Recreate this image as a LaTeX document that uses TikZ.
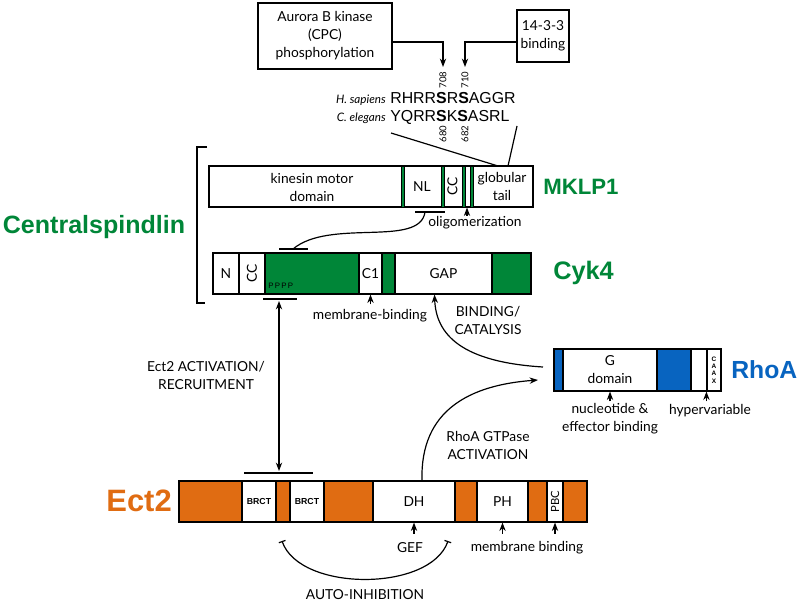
\documentclass[tikz,border=0pt]{standalone}
\usepackage{fontspec}
\setmainfont{Lato}
\newfontfamily\helv{Liberation Sans}
\usetikzlibrary{fit,arrows.meta}

\definecolor{spindlegreen}{RGB}{0,134,56}
\definecolor{ectorange}{RGB}{224,108,18}
\definecolor{rhoblue}{RGB}{8,100,192}

\tikzset{
  dom/.style={draw, line width=0.8pt, fill=white, inner sep=0pt},
  stripe/.style={draw, line width=0.5pt, fill=spindlegreen, inner sep=0pt},
  txt/.style={inner sep=0pt, align=center, font=\fontsize{9.8}{12.8}\selectfont},
  tiny/.style={inner sep=0pt, font=\fontsize{6.8}{8}\selectfont},
  brct/.style={inner sep=0pt, font=\helv\bfseries\fontsize{6.2}{7}\selectfont},
  protein/.style={inner sep=0pt, font=\helv\bfseries\fontsize{#1}{20}\selectfont},
  tip/.style={line width=0.85pt, -{Stealth[length=6pt,width=4.5pt]}},
  tee/.style={line width=0.85pt},
}

\begin{document}
\begin{tikzpicture}[x=0.025cm, y=-0.025cm]
\useasboundingbox (0,0) rectangle (800,603);

% Drawing regulator boxes
\node[dom, fit={(258,3) (392,69)}] (aurora) {};
\node[txt] (auroralbl) at (aurora) {Aurora B kinase\\(CPC)\\phosphorylation};
\node[dom, fit={(517,10) (569,62)}] (binding) {};
\node[txt] (bindinglbl) at (binding) {14-3-3\\binding};
\coordinate (s708) at (443,67);
\coordinate (s710) at (465,67);
\draw[tip] ([yshift=-4.3pt]aurora.east) -| (s708);
\draw[tip] ([yshift=-4.3pt]binding.west) -| (s710);

% Marking residue numbers
\node[tiny, rotate=90] (n708) at (443,80) {708};
\node[tiny, rotate=90] (n710) at (465,80) {710};
\node[tiny, rotate=90] (n680) at (443,134) {680};
\node[tiny, rotate=90] (n682) at (465,134) {682};

% Drawing sequences
\node[anchor=base east, inner sep=0pt, font=\itshape\fontsize{8.3}{10}\selectfont] (hsap) at (386,104) {H. sapiens};
\node[anchor=base west, inner sep=0pt, font=\helv\fontsize{11.3}{13}\selectfont] (hseq) at (390,104) {RHRR\textbf{S}R\textbf{S}AGGR};
\node[anchor=base east, inner sep=0pt, font=\itshape\fontsize{8.3}{10}\selectfont] (cele) at (386,122) {C. elegans};
\node[anchor=base west, inner sep=0pt, font=\helv\fontsize{11.3}{13}\selectfont] (cseq) at (390,122) {YQRR\textbf{S}K\textbf{S}ASRL};

% Drawing MKLP1
\node[dom, fit={(209,166) (402,207)}] (motor) {};
\node[dom, fit={(402,166) (442,207)}] (nl) {};
\node[dom, fit={(442,166) (463,207)}] (ccmk) {};
\node[dom, fit={(463,166) (471,207)}] (olig) {};
\node[dom, fit={(471,166) (533,207)}] (tail) {};
\node[stripe, fit={(401,166) (404,207)}] (stripea) {};
\node[stripe, fit={(441,166) (444,207)}] (stripeb) {};
\node[stripe, fit={(462,166) (465,207)}] (stripec) {};
\node[stripe, fit={(470,166) (473,207)}] (striped) {};
\node[txt] (motorlbl) at (312,187) {kinesin motor\\domain};
\node[txt] (nllbl) at (nl) {NL};
\node[txt, rotate=90] (ccmklbl) at (ccmk) {CC};
\node[txt] (taillbl) at (tail) {globular\\tail};
\node[protein=15.8, anchor=west, text=spindlegreen] (mklpname) at (543,187) {MKLP1};

% Drawing lines from sequence to tail
\coordinate (seqa) at (391,133);
\coordinate (seqb) at (517,126);
\coordinate (taila) at (498,166);
\coordinate (tailb) at (508,166);
\draw[tee] (seqa) -- (taila);
\draw[tee] (seqb) -- (tailb);

% Marking oligomerization
\draw[tip] ([yshift=-6pt]olig.south) -- (olig.south);
\node[txt] (oliglbl) at (475,223) {oligomerization};

% Drawing inhibition NL to Cyk4
\coordinate (nlbara) at (415,212);
\coordinate (nlbarb) at (445,212);
\coordinate (nlbarm) at (425,212);
\coordinate (cykbara) at (279,249);
\coordinate (cykbarb) at (308,249);
\coordinate (cykbarm) at (293,249);
\draw[tee] (nlbara) -- (nlbarb);
\draw[tee] (cykbara) -- (cykbarb);
\draw[tee] (nlbarm) .. controls (420,248) and (330,218) .. (cykbarm);

% Drawing Cyk4
\node[dom, fill=spindlegreen, fit={(213,253) (531,294)}] (cyk) {};
\node[dom, fit={(213,253) (239,294)}] (nterm) {};
\node[dom, fit={(239,253) (265,294)}] (cccyk) {};
\node[dom, fit={(359,253) (382,294)}] (cone) {};
\node[dom, fit={(395,253) (492,294)}] (gap) {};
\node[txt] (ntermlbl) at (nterm) {N};
\node[txt, rotate=90] (cccyklbl) at (cccyk) {CC};
\node[txt] (conelbl) at (cone) {C1};
\node[txt] (gaplbl) at (gap) {GAP};
\node[anchor=base west, inner sep=0pt, font=\helv\fontsize{5.6}{6}\selectfont] (pppp) at (268,288) {P\,P\,P\,P};
\node[protein=18, anchor=west, text=spindlegreen] (cykname) at (553,273) {Cyk4};

% Marking membrane-binding
\draw[tip] ([yshift=-7pt]cone.south) -- (cone.south);
\node[txt] (membcyk) at (370,316) {membrane-binding};

% Drawing Centralspindlin bracket
\coordinate (brtop) at (207,147);
\coordinate (brbot) at (205,303);
\draw[tee] (brtop) -- (197,147) -- (197,303) -- (brbot);
\node[protein=17.8, text=spindlegreen] (central) at (94,227) {Centralspindlin};

% Drawing Ect2 recruitment arrow
\coordinate (recbara) at (263,299);
\coordinate (recbarb) at (297,299);
\coordinate (ectbara) at (244,473);
\coordinate (ectbarb) at (313,473);
\coordinate (rectop) at (279,301);
\coordinate (recbot) at (279,471);
\draw[tee] (recbara) -- (recbarb);
\draw[tee] (ectbara) -- (ectbarb);
\draw[line width=0.85pt, {Stealth[length=6pt,width=4.5pt]}-{Stealth[length=6pt,width=4.5pt]}] (rectop) -- (recbot);
\node[txt] (reclbl) at (206,375) {Ect2 ACTIVATION/\\RECRUITMENT};

% Drawing RhoA
\node[dom, fit={(554,349) (721,391)}] (rho) {};
\node[dom, fill=rhoblue, fit={(554,349) (563,391)}] (rhoblua) {};
\node[dom, fit={(563,349) (657,391)}] (gdom) {};
\node[dom, fill=rhoblue, fit={(657,349) (691,391)}] (rhoblub) {};
\node[dom, fit={(707,349) (721,391)}] (caax) {};
\node[txt] (gdomlbl) at (gdom) {G\\domain};
\node[align=center, inner sep=0pt, font=\helv\bfseries\fontsize{4.6}{5.3}\selectfont] (caaxlbl) at (caax) {C\\A\\A\\X};
\node[protein=17.6, anchor=west, text=rhoblue] (rhoname) at (731,370) {RhoA};

% Marking RhoA arrows
\draw[tip] ([yshift=-7pt]gdom.south) -- (gdom.south);
\draw[tip] ([yshift=-7pt]caax.south west) -- (caax.south west);
\node[txt] (nuclbl) at (610,419) {nucleotide \&\\effector binding};
\node[txt] (hyplbl) at (710,411) {hypervariable};

% Drawing GAP curve
\coordinate (rhoout) at (543,367);
\coordinate (rhoin) at (538,380);
\draw[tip] (rhoout) .. controls (462,362) and (436,335) .. ([xshift=-6.4pt]gap.south);
\node[txt] (catlbl) at (488,320) {BINDING/\\CATALYSIS};

% Drawing Ect2
\node[dom, fill=ectorange, fit={(179,481) (587,522)}] (ect) {};
\node[dom, fit={(242,481) (276,522)}] (brcta) {};
\node[dom, fit={(290,481) (324,522)}] (brctb) {};
\node[dom, fit={(373,481) (455,522)}] (dh) {};
\node[dom, fit={(477,481) (528,522)}] (ph) {};
\node[dom, fit={(547,481) (563,522)}] (pbc) {};
\node[brct] (brctalbl) at (brcta) {BRCT};
\node[brct] (brctblbl) at (brctb) {BRCT};
\node[txt] (dhlbl) at (dh) {DH};
\node[txt] (phlbl) at (ph) {PH};
\node[txt, rotate=90, font=\fontsize{8}{9}\selectfont] (pbclbl) at (pbc) {PBC};
\node[protein=22, anchor=east, text=ectorange] (ectname) at (172,501) {Ect2};

% Drawing GEF curve
\draw[tip] ([xshift=5.7pt]dh.north) .. controls (420,410) and (470,385) .. (rhoin);
\node[txt] (gtplbl) at (488,445) {RhoA GTPase\\ACTIVATION};

% Marking Ect2 arrows
\draw[tip] ([yshift=-8pt]dh.south) -- (dh.south);
\draw[tip] ([yshift=-8pt]ph.south) -- (ph.south);
\draw[tip] ([yshift=-8pt]pbc.south) -- (pbc.south);
\node[txt] (geflbl) at (410,548) {GEF};
\node[txt] (memblbl) at (527,548) {membrane binding};

% Drawing auto-inhibition
\coordinate (autoa) at (282,541);
\coordinate (autob) at (448,541);
\draw[tee, {Bar[width=5pt]}-{Bar[width=5pt]}] (autoa) .. controls (300,592) and (430,592) .. (autob);
\node[txt] (autolbl) at (365,595) {AUTO-INHIBITION};

\end{tikzpicture}
\end{document}
